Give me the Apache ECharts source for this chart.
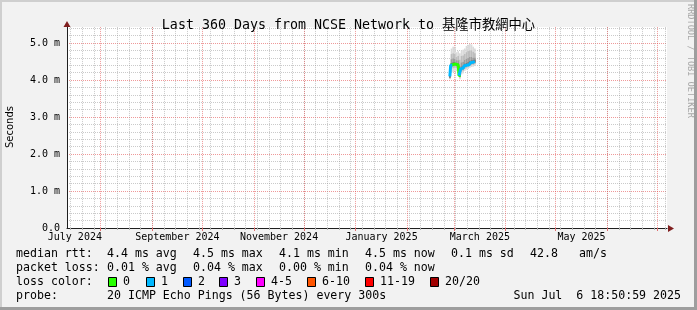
<!DOCTYPE html>
<html><head><meta charset="utf-8">
<script src="https://cdn.jsdelivr.net/npm/echarts@6/dist/echarts.min.js"></script>
<style>html,body{margin:0;padding:0;background:#f2f2f2;overflow:hidden}#c{width:697px;height:310px}</style>
</head><body><div id="c"></div>
<script>
// ---- data ----
const startTime = Date.UTC(2024, 6, 11, 18, 50, 59);
const endTime = Date.UTC(2025, 6, 6, 18, 50, 59);
const dayDates = ['2025-02-26','2025-02-27','2025-02-28','2025-03-01','2025-03-02','2025-03-03','2025-03-04','2025-03-05',
                  '2025-03-06','2025-03-07','2025-03-08','2025-03-09','2025-03-10','2025-03-11','2025-03-12','2025-03-13'];
const medianRtt = [4.10, 4.40, 4.42, 4.43, 4.42, 4.41, 4.12, 4.30, 4.32, 4.38, 4.40, 4.41, 4.45, 4.47, 4.48, 4.50];
const lossCount = [1, 0, 0, 0, 0, 0, 1, 1, 1, 1, 1, 1, 1, 1, 1, 1];
const smokeMin = [4.02, 4.20, 4.22, 4.25, 4.24, 4.22, 4.02, 4.15, 4.18, 4.25, 4.28, 4.30, 4.33, 4.35, 4.36, 4.38];
const smokeMax = [4.30, 4.85, 4.90, 4.88, 4.75, 4.78, 4.72, 4.80, 4.82, 4.85, 4.92, 4.95, 4.98, 4.96, 4.90, 4.85];
const smokeP10 = [4.04, 4.30, 4.32, 4.33, 4.32, 4.30, 4.06, 4.22, 4.25, 4.30, 4.33, 4.35, 4.38, 4.40, 4.41, 4.43];
const smokeP90 = [4.26, 4.70, 4.72, 4.70, 4.62, 4.65, 4.55, 4.65, 4.66, 4.70, 4.75, 4.78, 4.80, 4.80, 4.76, 4.72];
const smokeP25 = [4.06, 4.36, 4.38, 4.39, 4.37, 4.35, 4.08, 4.26, 4.28, 4.34, 4.37, 4.38, 4.41, 4.43, 4.44, 4.46];
const smokeP75 = [4.22, 4.56, 4.58, 4.57, 4.53, 4.53, 4.38, 4.47, 4.49, 4.54, 4.57, 4.59, 4.62, 4.62, 4.60, 4.60];
const smokeP40 = [4.06, 4.38, 4.40, 4.41, 4.39, 4.37, 4.10, 4.28, 4.30, 4.36, 4.38, 4.40, 4.43, 4.45, 4.46, 4.48];
const smokeP60 = [4.24, 4.46, 4.48, 4.48, 4.46, 4.45, 4.22, 4.36, 4.38, 4.44, 4.46, 4.48, 4.51, 4.53, 4.54, 4.55];
const monthStarts = ['2024-08-01','2024-09-01','2024-10-01','2024-11-01','2024-12-01','2025-01-01',
                     '2025-02-01','2025-03-01','2025-04-01','2025-05-01','2025-06-01','2025-07-01'];
const monthLabels = ['July 2024','September 2024','November 2024','January 2025','March 2025','May 2025'];
const monthLabelMonths = [['2024-07-01','2024-08-01'],['2024-09-01','2024-10-01'],['2024-11-01','2024-12-01'],
                          ['2025-01-01','2025-02-01'],['2025-03-01','2025-04-01'],['2025-05-01','2025-06-01']];
const firstWeekLine = '2024-07-14';
const yMajor = [0, 1, 2, 3, 4, 5];
const yLabels = ['0.0', '1.0 m', '2.0 m', '3.0 m', '4.0 m', '5.0 m'];
const lossColors = ['#26ff00', '#00b8ff', '#0059ff', '#7e00ff', '#ff00ff', '#ff5500', '#ff0000', '#a10000'];
const lossNames = ['0', '1', '2', '3', '4-5', '6-10', '11-19', '20/20'];

// ---- build ----
const ts = s => Date.parse(s + 'T00:00:00Z');
const DAY = 86400000;
const weekLines = [];
for (let t = ts(firstWeekLine); t < endTime; t += 7 * DAY) weekLines.push(t);
const yMinor = [];
for (let i = 1; i <= 27; i++) { if (i % 5 !== 0) yMinor.push(Math.round(i * 2) / 10); }
const labelPos = monthLabelMonths.map(p => (ts(p[0]) + ts(p[1])) / 2);
const Y_MAX = 5.43;

const GREY = 'rgba(150,150,150,0.5)';
const RED = 'rgba(225,70,70,0.55)';

const smokeLayers = [
  { lo: smokeMin, hi: smokeMax, color: '#dadada' },
  { lo: smokeP10, hi: smokeP90, color: '#bdbdbd' },
  { lo: smokeP25, hi: smokeP75, color: '#9c9c9c' },
  { lo: smokeP40, hi: smokeP60, color: '#767676' }
];
const smokeData = [];
dayDates.forEach((d, i) => {
  smokeLayers.forEach((L, k) => smokeData.push([ts(d), L.lo[i], L.hi[i], k]));
});

function lossCat(n) { return n <= 0 ? 0 : n <= 1 ? 1 : n <= 2 ? 2 : n <= 3 ? 3 : n <= 5 ? 4 : n <= 10 ? 5 : n < 20 ? 6 : 7; }
const medianSeries = [];
lossColors.forEach((c, cat) => {
  const data = dayDates.map((d, i) => {
    const inCat = lossCat(lossCount[i]) === cat;
    const prevIn = i > 0 && lossCat(lossCount[i - 1]) === cat;
    return [ts(d) + DAY / 2, (inCat || prevIn) ? medianRtt[i] : null];
  });
  if (data.some(p => p[1] !== null)) {
    medianSeries.push({
      type: 'line', name: 'loss ' + lossNames[cat], data, step: 'middle', showSymbol: false,
      xAxisIndex: 1, yAxisIndex: 1,
      connectNulls: false, lineStyle: { color: c, width: 3 }, z: 5, silent: true, animation: false
    });
  }
});

const mono = 'DejaVu Sans Mono';
const chart = echarts.init(document.getElementById('c'), null, { renderer: 'canvas' });

const legendTexts = [
  ['median rtt:', 16, 254], ['4.4 ms avg', 107, 254], ['4.5 ms max', 193, 254], ['4.1 ms min', 279, 254],
  ['4.5 ms now', 365, 254], ['0.1 ms sd', 451, 254], ['42.8', 530, 254], ['am/s', 579, 254],
  ['packet loss:', 16, 268], ['0.01 % avg', 107, 268], ['0.04 % max', 193, 268], ['0.00 % min', 279, 268], ['0.04 % now', 365, 268],
  ['loss color:', 16, 282],
  ['probe:', 16, 296], ['20 ICMP Echo Pings (56 Bytes) every 300s', 107, 296]
];
const boxX = [108, 146, 183, 219, 256, 307, 365, 430];
const graphics = [];
legendTexts.forEach(t => graphics.push({ type: 'text', x: t[1], y: t[2], silent: true,
  style: { text: t[0], fill: '#000', font: '11.6px ' + mono, verticalAlign: 'middle' } }));
lossNames.forEach((n, i) => {
  graphics.push({ type: 'rect', shape: { x: boxX[i] + 0.5, y: 277.5, width: 8, height: 9 }, silent: true,
    style: { fill: lossColors[i], stroke: '#000', lineWidth: 1 } });
  graphics.push({ type: 'text', x: boxX[i] + 15, y: 282, silent: true,
    style: { text: n, fill: '#000', font: '11.6px ' + mono, verticalAlign: 'middle' } });
});
graphics.push({ type: 'text', x: 681, y: 296, silent: true,
  style: { text: 'Sun Jul  6 18:50:59 2025', fill: '#000', font: '11.6px ' + mono, align: 'right', verticalAlign: 'middle' } });
graphics.push({ type: 'text', x: 690, y: 4, rotation: -Math.PI / 2, silent: true,
  style: { text: 'RRDTOOL / TOBI OETIKER', fill: '#a8a8a8', font: '8.6px ' + mono, align: 'left', verticalAlign: 'middle' } });
graphics.push({ type: 'text', x: 10, y: 127, rotation: Math.PI / 2, silent: true,
  style: { text: 'Seconds', fill: '#000', font: '10px "DejaVu Sans"', align: 'center', verticalAlign: 'middle' } });
// frame shading
graphics.push({ type: 'rect', shape: { x: 0, y: 0, width: 697, height: 2 }, style: { fill: '#cfcfcf' }, silent: true });
graphics.push({ type: 'rect', shape: { x: 0, y: 0, width: 2, height: 310 }, style: { fill: '#cfcfcf' }, silent: true });
graphics.push({ type: 'rect', shape: { x: 694, y: 0, width: 3, height: 310 }, style: { fill: '#9e9e9e' }, silent: true });
graphics.push({ type: 'rect', shape: { x: 0, y: 307, width: 697, height: 3 }, style: { fill: '#9e9e9e' }, silent: true });
// axis arrows
graphics.push({ type: 'polygon', shape: { points: [[668, 225], [668, 232], [674, 228.5]] }, style: { fill: '#801f1f' }, silent: true, z: 20 });
graphics.push({ type: 'polygon', shape: { points: [[63.5, 27], [70.5, 27], [67, 21]] }, style: { fill: '#801f1f' }, silent: true, z: 20 });

chart.setOption({
  animation: false,
  backgroundColor: '#f2f2f2',
  title: {
    text: 'Last 360 Days from NCSE Network to 基隆市教網中心',
    left: 'center', top: 14,
    textStyle: { fontFamily: mono + ', "Noto Sans CJK TC"', fontSize: 13.3, fontWeight: 'normal', color: '#000' }
  },
  grid: { left: 67, right: 30, top: 228 - Y_MAX * 37, bottom: 82, containLabel: false, show: true, backgroundColor: '#ffffff', borderWidth: 0 },
  xAxis: [{
    type: 'value', min: startTime, max: endTime, position: 'bottom',
    axisLine: { show: false },
    axisTick: { show: true, customValues: weekLines, length: 2, lineStyle: { color: '#b0b0b0' } },
    axisLabel: { show: false },
    splitLine: { show: true, lineStyle: { color: GREY, type: [1, 1], width: 1 } }
  }, {
    type: 'value', min: startTime, max: endTime, position: 'bottom', offset: 0,
    axisLine: { show: true, onZero: false, lineStyle: { color: '#1f1f1f', width: 1 } },
    axisTick: { show: true, customValues: monthStarts.map(ts), length: 3, lineStyle: { color: '#e07070' } },
    axisLabel: {
      show: true, customValues: labelPos, hideOverlap: false, margin: 4, showMinLabel: true, showMaxLabel: true,
      formatter: v => { const i = labelPos.findIndex(p => Math.abs(p - v) < DAY); return i >= 0 ? monthLabels[i] : ''; },
      fontFamily: mono, fontSize: 10, color: '#000'
    },
    splitLine: { show: true, lineStyle: { color: RED, type: [1, 1], width: 1 } }
  }],
  yAxis: [{
    type: 'value', min: 0, max: Y_MAX, position: 'left',
    axisLine: { show: false }, axisTick: { show: false, customValues: yMinor },
    axisLabel: { show: false },
    splitLine: { show: true, lineStyle: { color: GREY, type: [1, 1], width: 1 } }
  }, {
    type: 'value', min: 0, max: Y_MAX, position: 'left', offset: 0,
    axisLine: { show: true, onZero: false, lineStyle: { color: '#1f1f1f', width: 1 } },
    axisTick: { show: false, customValues: yMajor },
    axisLabel: {
      customValues: yMajor, fontFamily: mono, fontSize: 10, color: '#000', margin: 7,
      formatter: v => { const i = yMajor.findIndex(m => Math.abs(m - v) < 1e-6); return i >= 0 ? yLabels[i] : ''; }
    },
    splitLine: { show: true, lineStyle: { color: RED, type: [1, 1], width: 1 } }
  }],
  graphic: graphics,
  series: [
    {
      type: 'custom', name: 'smoke', data: smokeData, z: 3, silent: true,
      xAxisIndex: 1, yAxisIndex: 1,
      encode: { x: 0, y: [1, 2] },
      renderItem: (params, api) => {
        const t = api.value(0);
        const p1 = api.coord([t, api.value(2)]);
        const p2 = api.coord([t + DAY, api.value(1)]);
        const k = api.value(3);
        return { type: 'rect', shape: { x: p1[0], y: p1[1], width: p2[0] - p1[0], height: p2[1] - p1[1] },
          style: { fill: smokeLayers[k].color } };
      }
    }
  ].concat(medianSeries)
});
</script></body></html>
